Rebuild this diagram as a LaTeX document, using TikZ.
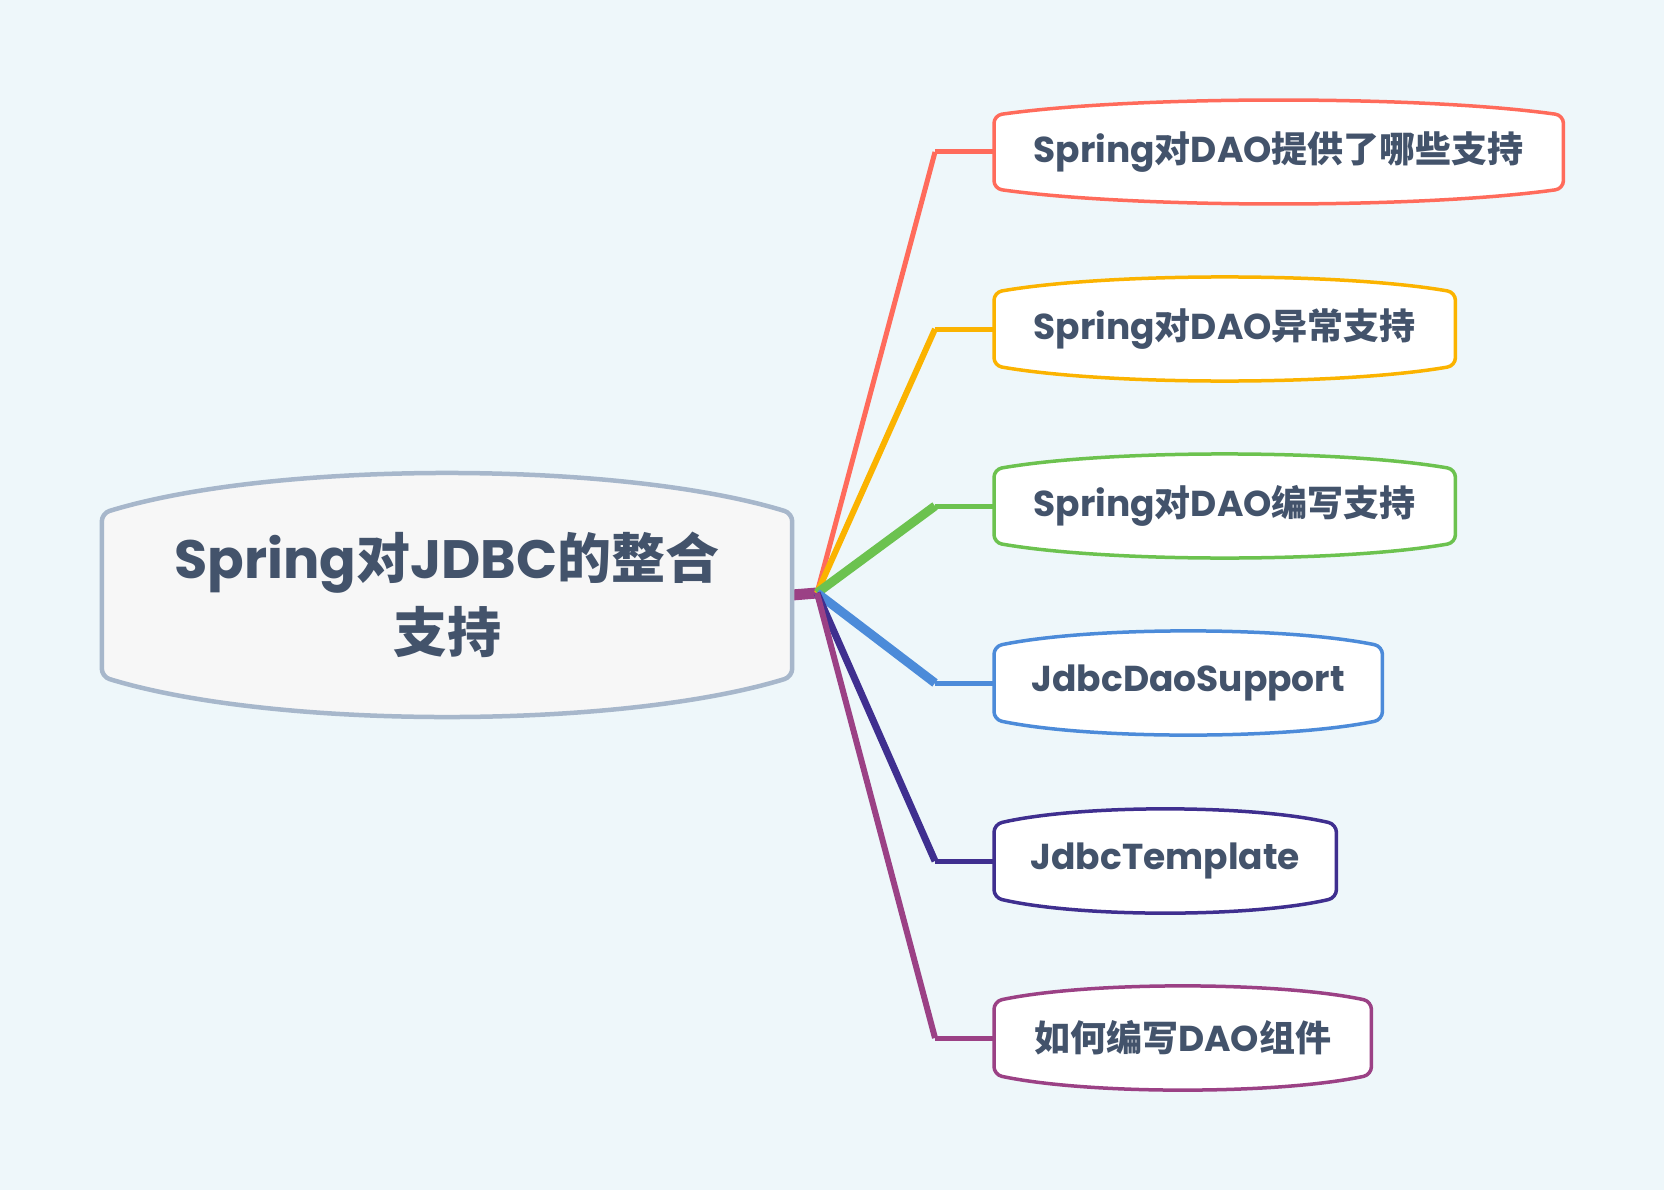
\documentclass[tikz,border=0pt]{standalone}
\usepackage{fontspec}
\setmainfont{Poppins}
\newfontfamily\cjk{Noto Sans CJK SC}
\usetikzlibrary{calc,backgrounds}
\definecolor{ink}{HTML}{43536B}
\definecolor{paper}{HTML}{EEF7FA}
\definecolor{rootline}{HTML}{A7B7CB}
\definecolor{rootfill}{HTML}{F7F7F7}
\definecolor{cred}{HTML}{FF6B5B}
\definecolor{corange}{HTML}{FBB300}
\definecolor{cgreen}{HTML}{6CC24F}
\definecolor{cblue}{HTML}{4C8BD9}
\definecolor{cpurple}{HTML}{3F2F8F}
\definecolor{cmag}{HTML}{9B4185}
\newcommand\zh[1]{{\cjk #1}}
% outline with a bulged top and bottom round a named node
\newcommand\bubble[5]{%
  \draw[line width=#5, draw=#2, fill=#3, rounded corners=8pt, line join=round]
    (#1.north west)
    .. controls ($(#1.north west)!0.25!(#1.north east)+(0pt,#4)$)
            and ($(#1.north west)!0.75!(#1.north east)+(0pt,#4)$) .. (#1.north east)
    -- (#1.south east)
    .. controls ($(#1.south west)!0.75!(#1.south east)-(0pt,#4)$)
            and ($(#1.south west)!0.25!(#1.south east)-(0pt,#4)$) .. (#1.south west)
    -- cycle;}
\tikzset{
  root/.style={
    minimum width=690pt, minimum height=163pt, inner sep=0pt,
    align=center, text=ink,
    font=\fontsize{54}{74}\selectfont\bfseries
  },
  topic/.style={
    anchor=west, minimum height=73pt, inner sep=0pt,
    text=ink, font=\fontsize{36}{40}\selectfont\bfseries
  },
  stem/.style={line join=round, line cap=butt}
}

\begin{document}
\begin{tikzpicture}[x=1pt, y=-1pt]
  \useasboundingbox (0,0) rectangle (1664,1190);

  \node[root] (root) at (447,595) {Spring\zh{对}JDBC\zh{的整合}\\\zh{支持}};

  \node[topic, minimum width=569pt] (t1) at (994,152)  {Spring\zh{对}DAO\zh{提供了哪些支持}};
  \node[topic, minimum width=461pt] (t2) at (994,329)  {Spring\zh{对}DAO\zh{异常支持}};
  \node[topic, minimum width=461pt] (t3) at (994,506)  {Spring\zh{对}DAO\zh{编写支持}};
  \node[topic, minimum width=388pt] (t4) at (994,683)  {JdbcDaoSupport};
  \node[topic, minimum width=342pt] (t5) at (994,861)  {JdbcTemplate};
  \node[topic, minimum width=377pt] (t6) at (994,1038) {\zh{如何编写}DAO\zh{组件}};

  \begin{scope}[on background layer]
    \fill[paper] (0,0) rectangle (1664,1190);
    \coordinate (hub) at (817,593);
    \draw[stem, draw=cmag, line width=11pt] (root.east) -- (hub);
    \foreach \n/\c/\w in {1/cred/5,2/corange/6,3/cgreen/9,4/cblue/9,5/cpurple/7,6/cmag/6} {
      \coordinate (e\n) at ($(t\n.west)-(59pt,0pt)$);
      \draw[stem, draw=\c, line width=\w pt] (hub) -- (e\n);
      \draw[stem, draw=\c, line width=5pt] (e\n) -- (t\n.west);
    }
    \bubble{root}{rootline}{rootfill}{53pt}{4.5pt}
    \foreach \n/\c in {1/cred,2/corange,3/cgreen,4/cblue,5/cpurple,6/cmag}
      {\bubble{t\n}{\c}{white}{20pt}{3.5pt}}
  \end{scope}
\end{tikzpicture}
\end{document}
